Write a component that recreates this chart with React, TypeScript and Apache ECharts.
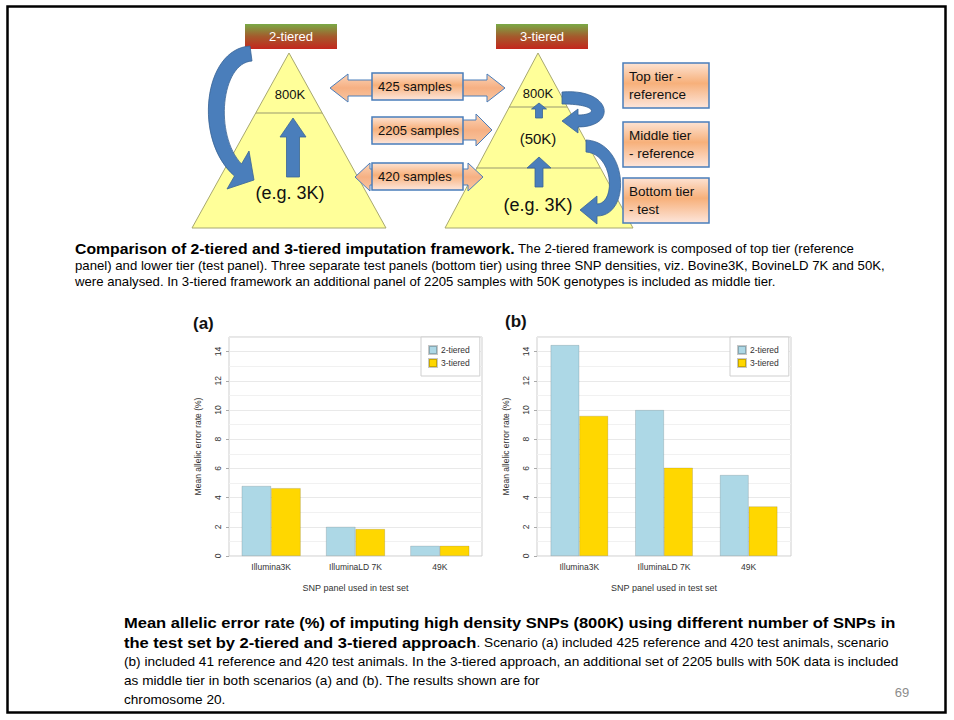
import React, { useEffect, useRef } from 'react';
import * as echarts from 'echarts';

// ---------- data ----------
const categories = ['Illumina3K', 'IlluminaLD 7K', '49K'];
const seriesNames = ['2-tiered', '3-tiered'];
const scenarioA2 = [4.8, 2.0, 0.7];
const scenarioA3 = [4.65, 1.85, 0.7];
const scenarioB2 = [14.45, 10.0, 5.55];
const scenarioB3 = [9.6, 6.05, 3.4];
const yAxisName = 'Mean allelic error rate (%)';
const xAxisName = 'SNP panel used in test set';
const panelLabels = ['(a)', '(b)'];

const topCaption = [
  '{b|Comparison of 2-tiered and 3-tiered imputation framework.}{n| The 2-tiered framework is composed of top tier (reference}',
  '{n|panel) and lower tier (test panel). Three separate test panels (bottom tier) using three SNP densities, viz. Bovine3K, BovineLD 7K and 50K,}',
  '{n|were analysed. In 3-tiered framework an additional panel of 2205 samples with 50K genotypes is included as middle tier.}',
];
const bottomCaption = [
  '{b|Mean allelic error rate (%) of imputing high density SNPs (800K) using different number of SNPs in}',
  '{b|the test set by 2-tiered and 3-tiered approach}{n|. Scenario (a) included 425 reference and 420 test animals, scenario}',
  '{n|(b) included 41 reference and 420 test animals. In the 3-tiered approach, an additional set of 2205 bulls with 50K data is included}',
  '{n|as middle tier in both scenarios (a) and (b). The results shown are for}',
  '{n|chromosome 20.}',
];
const pageNumber = '69';

// ---------- shapes ----------
const CURVE_L = 'M250,46 C203,49 193,140 234.5,176 L227,189 L254,180 L249,151 L241.5,164 C214,135 221,63 252,61 Z';
const CURVE_R1 = 'M562,92 C612,88 618,127 578,127 L578,133 L562,121 L578,109 L578,115 C598,115 598,104 562,104 Z';
const CURVE_R2 = 'M586,140 C628,142 632,216 597,216 L597,224 L580,210 L597,196 L597,204 C616,204 614,154 586,152 Z';
try {
  echarts.graphic.registerShape('curveL', echarts.graphic.extendPath(CURVE_L, {}));
  echarts.graphic.registerShape('curveR1', echarts.graphic.extendPath(CURVE_R1, {}));
  echarts.graphic.registerShape('curveR2', echarts.graphic.extendPath(CURVE_R2, {}));
} catch (e) {}

const FONT = 'Liberation Sans, Arial, sans-serif';

function dblArrow(x1: number, x2: number, cy: number, hl: number, hh: number, sh: number) {
  return [[x1, cy], [x1 + hl, cy - hh], [x1 + hl, cy - sh], [x2 - hl, cy - sh], [x2 - hl, cy - hh], [x2, cy],
    [x2 - hl, cy + hh], [x2 - hl, cy + sh], [x1 + hl, cy + sh], [x1 + hl, cy + hh]];
}
function rightArrow(x1: number, x2: number, cy: number, hl: number, hh: number, sh: number) {
  return [[x1, cy - sh], [x2 - hl, cy - sh], [x2 - hl, cy - hh], [x2, cy], [x2 - hl, cy + hh], [x2 - hl, cy + sh], [x1, cy + sh]];
}
function upArrow(cx: number, tipY: number, baseY: number, bottomY: number, hw: number, sw: number) {
  return [[cx, tipY], [cx + hw, baseY], [cx + sw, baseY], [cx + sw, bottomY], [cx - sw, bottomY], [cx - sw, baseY], [cx - hw, baseY]];
}

function buildGraphics() {
  const blue = '#4a7ebb';
  const blueDark = '#3a6595';
  const peach = () => new echarts.graphic.LinearGradient(0, 0, 0, 1, [
    { offset: 0, color: '#fbd3b6' }, { offset: 0.5, color: '#f6b083' }, { offset: 1, color: '#f9c7a3' }]);
  const labelFill = () => new echarts.graphic.LinearGradient(0, 0, 0, 1, [
    { offset: 0, color: '#fde3d3' }, { offset: 0.45, color: '#f7b07a' }, { offset: 1, color: '#fde6dc' }]);
  const banner = () => new echarts.graphic.LinearGradient(0, 0, 0, 1, [
    { offset: 0, color: '#7aaa46' }, { offset: 0.5, color: '#a45a2c' }, { offset: 1, color: '#c4261d' }]);
  const yellow = '#ffff99';
  const triStroke = '#a8a870';
  const els: any[] = [];

  // slide border
  els.push({ type: 'rect', shape: { x: 7.5, y: 6.5, width: 938, height: 706 }, style: { fill: 'none', stroke: '#000', lineWidth: 2.5 }, z: 100 });

  // banners
  [[245, '2-tiered'], [496, '3-tiered']].forEach(([x, t]: any) => {
    els.push({ type: 'rect', shape: { x, y: 24, width: 92, height: 25 }, style: { fill: banner() } });
    els.push({ type: 'text', x: x + 46, y: 36.5, style: { text: t, fill: '#fff', fontSize: 13, fontFamily: FONT, align: 'center', verticalAlign: 'middle' } });
  });

  // triangles
  els.push({ type: 'polygon', shape: { points: [[289, 53], [192, 228], [386, 228]] }, style: { fill: yellow, stroke: triStroke, lineWidth: 1 } });
  els.push({ type: 'polygon', shape: { points: [[538, 53], [445, 228], [633, 228]] }, style: { fill: yellow, stroke: triStroke, lineWidth: 1 } });
  els.push({ type: 'line', shape: { x1: 256, y1: 113, x2: 322, y2: 113 }, style: { stroke: '#9a9a70', lineWidth: 1.2 } });
  els.push({ type: 'line', shape: { x1: 509, y1: 107, x2: 567, y2: 107 }, style: { stroke: '#9a9a70', lineWidth: 1.2 } });
  els.push({ type: 'line', shape: { x1: 476, y1: 168, x2: 600, y2: 168 }, style: { stroke: '#9a9a70', lineWidth: 1.2 } });

  // up arrows
  els.push({ type: 'polygon', shape: { points: upArrow(293, 118, 137, 177, 13, 6.5) }, style: { fill: blue, stroke: blueDark, lineWidth: 0.8 } });
  els.push({ type: 'polygon', shape: { points: upArrow(539, 103, 109, 118, 7.5, 3.5) }, style: { fill: blue, stroke: blueDark, lineWidth: 0.8 } });
  els.push({ type: 'polygon', shape: { points: upArrow(539, 157, 168, 187, 12, 4) }, style: { fill: blue, stroke: blueDark, lineWidth: 0.8 } });

  // curved arrows
  els.push({ type: 'curveL', x: 0, y: 0, style: { fill: blue, stroke: blueDark, lineWidth: 0.8 } });
  els.push({ type: 'curveR1', x: 0, y: 0, style: { fill: blue, stroke: blueDark, lineWidth: 0.8 } });
  els.push({ type: 'curveR2', x: 0, y: 0, style: { fill: blue, stroke: blueDark, lineWidth: 0.8 } });

  // peach arrows
  els.push({ type: 'polygon', shape: { points: dblArrow(330, 505, 88, 18, 14, 8) }, style: { fill: peach(), stroke: blue, lineWidth: 1 } });
  els.push({ type: 'polygon', shape: { points: rightArrow(372, 492, 130, 16, 16, 10) }, style: { fill: peach(), stroke: blue, lineWidth: 1 } });
  els.push({ type: 'polygon', shape: { points: dblArrow(355, 483, 177, 15, 14, 8) }, style: { fill: peach(), stroke: blue, lineWidth: 1 } });

  // sample labels
  [[73, '425 samples'], [117, '2205 samples'], [163, '420 samples']].forEach(([y, t]: any) => {
    els.push({ type: 'rect', shape: { x: 372, y, width: 91, height: 27 }, style: { fill: labelFill(), stroke: blue, lineWidth: 1.5 } });
    els.push({ type: 'text', x: 378, y: y + 13.5, style: { text: t, fill: '#111', fontSize: 13, fontFamily: FONT, align: 'left', verticalAlign: 'middle' } });
  });

  // tier boxes
  [[63, 'Top tier -\nreference'], [122, 'Middle tier\n- reference'], [178, 'Bottom tier\n- test']].forEach(([y, t]: any) => {
    els.push({ type: 'rect', shape: { x: 623, y, width: 86, height: 45 }, style: { fill: labelFill(), stroke: blue, lineWidth: 1.5 } });
    els.push({ type: 'text', x: 629, y: y + 22.5, style: { text: t, fill: '#111', fontSize: 13.5, lineHeight: 17.5, fontFamily: FONT, align: 'left', verticalAlign: 'middle' } });
  });

  // triangle texts
  const tt = (x: number, y: number, t: string, fs: number) =>
    els.push({ type: 'text', x, y, style: { text: t, fill: '#111', fontSize: fs, fontFamily: FONT, align: 'center', verticalAlign: 'middle' } });
  tt(290, 94, '800K', 13);
  tt(290, 193, '(e.g. 3K)', 18);
  tt(538, 93, '800K', 13);
  tt(538, 138, '(50K)', 15);
  tt(538, 205, '(e.g. 3K)', 18);

  // captions
  const rich = (bs: number, ns: number) => ({
    b: { fontWeight: 'bold', fontSize: bs, fontFamily: FONT, fill: '#000' },
    n: { fontSize: ns, fontFamily: FONT, fill: '#000' },
  });
  const topY = [249, 266, 282];
  topCaption.forEach((line, i) => {
    els.push({ type: 'text', x: 75, y: topY[i], scaleX: 1.08, style: { text: line, rich: rich(14.6, 12.2), align: 'left', verticalAlign: 'middle' } });
  });
  const botY = [623, 643, 662, 681, 700];
  bottomCaption.forEach((line, i) => {
    els.push({ type: 'text', x: 124, y: botY[i], scaleX: 1.08, style: { text: line, rich: rich(15.3, 12.6), align: 'left', verticalAlign: 'middle' } });
  });
  els.push({ type: 'text', x: 902, y: 692, style: { text: pageNumber, fill: '#8c8c8c', fontSize: 13, fontFamily: FONT, align: 'center', verticalAlign: 'middle' } });

  // panel labels
  els.push({ type: 'text', x: 193, y: 323, style: { text: panelLabels[0], fill: '#111', fontSize: 17, fontWeight: 'bold', fontFamily: FONT, align: 'left', verticalAlign: 'middle' } });
  els.push({ type: 'text', x: 505, y: 321, style: { text: panelLabels[1], fill: '#111', fontSize: 17, fontWeight: 'bold', fontFamily: FONT, align: 'left', verticalAlign: 'middle' } });
  return els;
}

export default function App() {
  const ref = useRef<HTMLDivElement>(null);
  useEffect(() => {
    document.body.style.margin = '0';
    if (!ref.current) return;
    const chart = echarts.init(ref.current, null, { renderer: 'svg' });
    const grids = [
      { left: 229, top: 337, width: 253, height: 219 },
      { left: 537, top: 337, width: 254, height: 219 },
    ];
    const axisFont = { fontFamily: FONT, fontSize: 8.5, color: '#333' };
    const option: any = {
      animation: false,
      backgroundColor: '#fff',
      grid: grids.map((g) => ({ ...g, show: true, backgroundColor: '#fff', borderColor: '#cfcfcf', borderWidth: 1 })),
      legend: grids.map((g) => ({
        data: seriesNames,
        orient: 'vertical',
        left: g.left + g.width - 61,
        top: g.top,
        width: 61,
        padding: [8, 10, 8, 7],
        itemWidth: 8,
        itemHeight: 8,
        itemGap: 3,
        icon: 'rect',
        backgroundColor: '#fff',
        borderColor: '#cfcfcf',
        borderWidth: 1,
        textStyle: { ...axisFont, fontSize: 8.5, padding: [0, 0, 0, -1] },
        selectedMode: false,
      })),
      xAxis: grids.map((_, i) => ({
        type: 'category',
        gridIndex: i,
        data: categories,
        axisLine: { show: false },
        axisTick: { show: false },
        axisLabel: { ...axisFont, margin: 6 },
        name: xAxisName,
        nameLocation: 'middle',
        nameGap: 27,
        nameTextStyle: { ...axisFont, fontSize: 9 },
      })),
      yAxis: grids.map((_, i) => ({
        type: 'value',
        gridIndex: i,
        min: 0,
        max: 15,
        interval: 2,
        axisLine: { show: false },
        axisTick: { show: true, length: 3, lineStyle: { color: '#aaa' } },
        axisLabel: { ...axisFont, rotate: 90, margin: 7, showMaxLabel: false },
        splitLine: { show: true, lineStyle: { color: '#e9e9e9', width: 1 } },
        minorTick: { show: false, splitNumber: 2 },
        minorSplitLine: { show: true, lineStyle: { color: '#f1f1f1', width: 1 } },
        name: yAxisName,
        nameLocation: 'middle',
        nameRotate: 90,
        nameGap: 27,
        nameTextStyle: { ...axisFont, fontSize: 8.5 },
      })),
      series: [
        { name: seriesNames[0], data: scenarioA2, xi: 0, c: '#add8e6' },
        { name: seriesNames[1], data: scenarioA3, xi: 0, c: '#ffd700' },
        { name: seriesNames[0], data: scenarioB2, xi: 1, c: '#add8e6' },
        { name: seriesNames[1], data: scenarioB3, xi: 1, c: '#ffd700' },
      ].map((s) => ({
        type: 'bar',
        name: s.name,
        data: s.data,
        xAxisIndex: s.xi,
        yAxisIndex: s.xi,
        barGap: '0%',
        barCategoryGap: s.xi === 0 ? '30%' : '32%',
        itemStyle: { color: s.c, borderColor: 'rgba(0,0,0,0.22)', borderWidth: 0.6 },
      })),
      graphic: { elements: buildGraphics() },
    };
    chart.setOption(option);
    return () => chart.dispose();
  }, []);
  return <div ref={ref} style={{ width: 954, height: 720 }} />;
}
